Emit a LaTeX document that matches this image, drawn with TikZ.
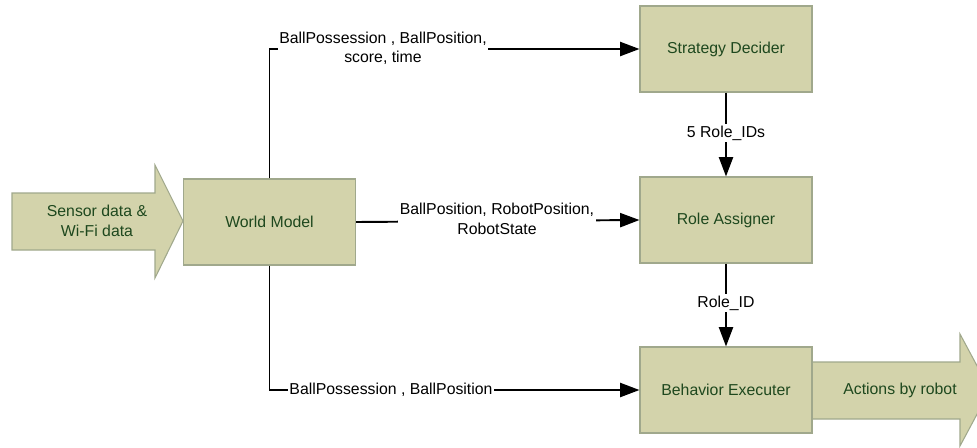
\documentclass[tikz,border=0pt]{standalone}
\usepackage{fontspec}
\setmainfont{Liberation Sans}
\usepackage{xcolor}
\usetikzlibrary{arrows.meta}

\definecolor{blockfill}{RGB}{211,211,171}
\definecolor{blockline}{RGB}{160,168,140}
\definecolor{blocktext}{RGB}{30,72,30}

\begin{document}
\begin{tikzpicture}[
					x=0.02cm,y=-0.02cm,
					block/.style={rectangle,draw=blockline,fill=blockfill,line width=0.6pt,minimum width=172*0.02cm,minimum height=86*0.02cm,inner sep=0pt,font=\fontsize{9}{11}\selectfont,text=blocktext},
					bigarrow/.style={draw=blockline,fill=blockfill,line width=0.6pt},
					flow/.style={draw=black,line width=1.1pt,-{Triangle[length=11pt,width=8pt]}},
					flabel/.style={fill=white,inner sep=1pt,align=center,font=\fontsize{9}{11}\selectfont}
					]
					\useasboundingbox (0,0) rectangle (977,447);
					% input and output arrows
					\filldraw[bigarrow] (12,193) -- (155,193) -- (155,165) -- (183,221) -- (155,278) -- (155,250) -- (12,250) -- cycle;
					\filldraw[bigarrow] (812,362) -- (960,362) -- (960,334) -- (990,390) -- (960,446) -- (960,419) -- (812,419) -- cycle;
					\node[align=center,font=\fontsize{9}{11}\selectfont,text=blocktext] (sensor) at (97,221) {Sensor data \&\\Wi-Fi data};
					\node[font=\fontsize{9}{11}\selectfont,text=blocktext] (actions) at (900,390) {Actions by robot};
					% blocks
					\node[block] (wm) at (269.5,222) {World Model};
					\node[block] (sd) at (726,49) {Strategy Decider};
					\node[block] (ra) at (726,220) {Role Assigner};
					\node[block] (be) at (726,390) {Behavior Executer};
					% connectors
					\draw[flow] (wm.north) |- (sd.west);
					\draw[flow] (wm.east) -- (ra.west);
					\draw[flow] (wm.south) |- (be.west);
					\draw[flow] (sd.south) -- (ra.north);
					\draw[flow] (ra.south) -- (be.north);
					% labels on the connectors
					\node[flabel] (lsd) at (383,48) {BallPossession , BallPosition,\\score, time};
					\node[flabel] (lra) at (497,219) {BallPosition, RobotPosition,\\RobotState};
					\node[flabel] (lbe) at (391,390) {BallPossession , BallPosition};
					\node[flabel] (lids) at (726,133) {5 Role\_IDs};
					\node[flabel] (lid) at (726,303) {Role\_ID};
				\end{tikzpicture}
\end{document}
